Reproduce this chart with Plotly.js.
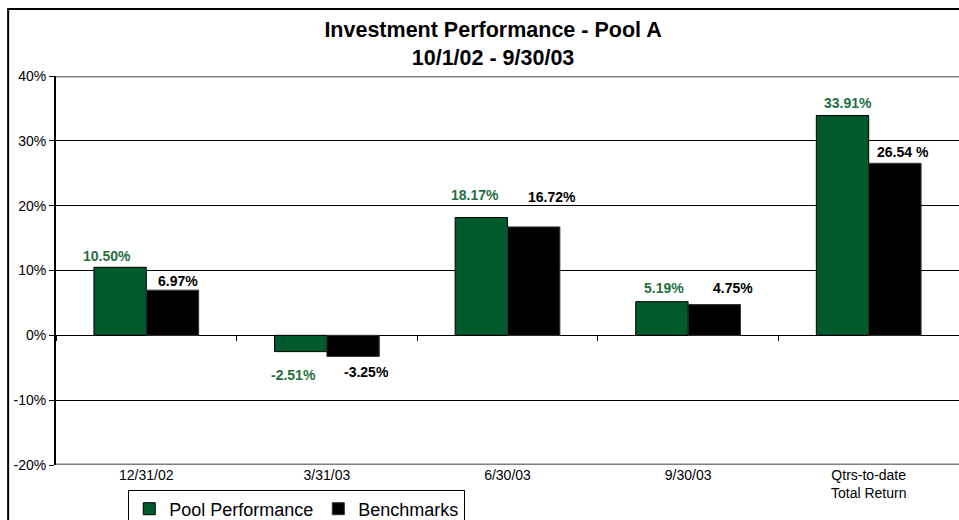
<!DOCTYPE html>
<html>
<head>
<meta charset="utf-8">
<script src="https://cdn.plot.ly/plotly-3.0.1.min.js"></script>
<style>html,body{margin:0;padding:0;background:#fff;}#chart{width:959px;height:520px;}</style>
</head>
<body>
<div id="chart"></div>
<script>
const categories = ['12/31/02', '3/31/03', '6/30/03', '9/30/03', 'Qtrs-to-date<br>Total Return'];
const poolValues = [10.50, -2.51, 18.17, 5.19, 33.91];
const benchValues = [6.97, -3.25, 16.72, 4.75, 26.54];
const poolLabels = ['10.50%', '-2.51%', '18.17%', '5.19%', '33.91%'];
const benchLabels = ['6.97%', '-3.25%', '16.72%', '4.75%', '26.54 %'];
const seriesNames = ['Pool Performance', 'Benchmarks'];
const yTicks = [-20, -10, 0, 10, 20, 30, 40];

// label placement tweaks (pixels, styling only): horizontal offset and distance from bar end
const poolLabelDx = [-13, -7, -7, 2, 5];
const poolLabelGap = [11, 23, 23, 14, 12];
const benchLabelDx = [6, 14, 18, 19, 8];
const benchLabelGap = [9, 16, 30, 17, 11];

const FONT = 'Arial, "Liberation Sans", sans-serif';
const GREEN = '#005a2b';
const GREEN_TEXT = '#1f6f3f';

const traces = [
  {type: 'bar', name: seriesNames[0], x: categories, y: poolValues,
   marker: {color: GREEN, line: {color: '#000', width: 1}}, hoverinfo: 'skip'},
  {type: 'bar', name: seriesNames[1], x: categories, y: benchValues,
   marker: {color: '#000', line: {color: '#333', width: 1}}, hoverinfo: 'skip'},
  {type: 'scatter', mode: 'none', x: categories, y: categories.map(() => null),
   xaxis: 'x2', yaxis: 'y', showlegend: false, hoverinfo: 'skip'}
];

const annotations = [];
function addLabels(vals, labels, barShift, dx, gap, color) {
  vals.forEach((v, i) => {
    annotations.push({
      x: categories[i], y: v, xref: 'x', yref: 'y', text: labels[i], showarrow: false,
      xshift: barShift + dx[i], yanchor: 'middle', yshift: v >= 0 ? gap[i] : -gap[i],
      font: {family: FONT, size: 14, color: color, weight: 'bold'}
    });
  });
}
addLabels(poolValues, poolLabels, -26, poolLabelDx, poolLabelGap, GREEN_TEXT);
addLabels(benchValues, benchLabels, 26, benchLabelDx, benchLabelGap, '#000');

const layout = {
  width: 959, height: 520,
  margin: {l: 56, r: 0, t: 76, b: 55, autoexpand: false},
  paper_bgcolor: '#fff', plot_bgcolor: '#fff',
  font: {family: FONT, size: 14, color: '#000'},
  title: {text: '<b>Investment Performance - Pool A<br>10/1/02 - 9/30/03</b>',
          font: {family: FONT, size: 21.5, color: '#000'},
          xref: 'paper', x: 0.484, xanchor: 'center', yref: 'container', y: 0.929, yanchor: 'middle'},
  barmode: 'group', bargap: 0.42, bargroupgap: 0,
  xaxis: {type: 'category', range: [-0.5, 4.5], showline: false, showgrid: false, zeroline: false,
          ticks: '', tickfont: {family: FONT, size: 14}, automargin: false},
  xaxis2: {type: 'category', overlaying: 'x', matches: 'x', anchor: 'free', position: 1/3,
           range: [-0.5, 4.5], showline: false, showgrid: false, zeroline: false,
           ticks: 'outside', tickson: 'boundaries', ticklen: 5, tickcolor: '#000',
           showticklabels: false, side: 'bottom', automargin: false},
  yaxis: {range: [-20, 40], tickvals: yTicks, ticktext: yTicks.map(v => v + '%'),
          showline: true, linecolor: '#000', linewidth: 2, ticks: 'outside', ticklen: 5, tickcolor: '#000',
          showgrid: true, gridcolor: '#000', gridwidth: 1, zeroline: true, zerolinecolor: '#000', zerolinewidth: 1,
          tickfont: {family: FONT, size: 14}, automargin: false},
  showlegend: true,
  legend: {orientation: 'h', x: 0.08, xanchor: 'left', y: -0.063, yanchor: 'top',
           bordercolor: '#000', borderwidth: 1, bgcolor: '#fff',
           font: {family: FONT, size: 18}, itemwidth: 30, tracegroupgap: 0},
  shapes: [
    {type: 'line', xref: 'paper', yref: 'y', x0: 0, x1: 1, y0: 40, y1: 40, line: {color: '#808080', width: 3}},
    {type: 'line', xref: 'paper', yref: 'y', x0: 0, x1: 1, y0: -20, y1: -20, line: {color: '#808080', width: 3}},
    {type: 'rect', xref: 'paper', yref: 'paper', x0: -0.053, x1: 1.05, y0: -0.3, y1: 1.172, line: {color: '#000', width: 2}, layer: 'below'}
  ],
  annotations: annotations
};

Plotly.newPlot('chart', traces, layout, {displayModeBar: false, staticPlot: true});
</script>
</body>
</html>
